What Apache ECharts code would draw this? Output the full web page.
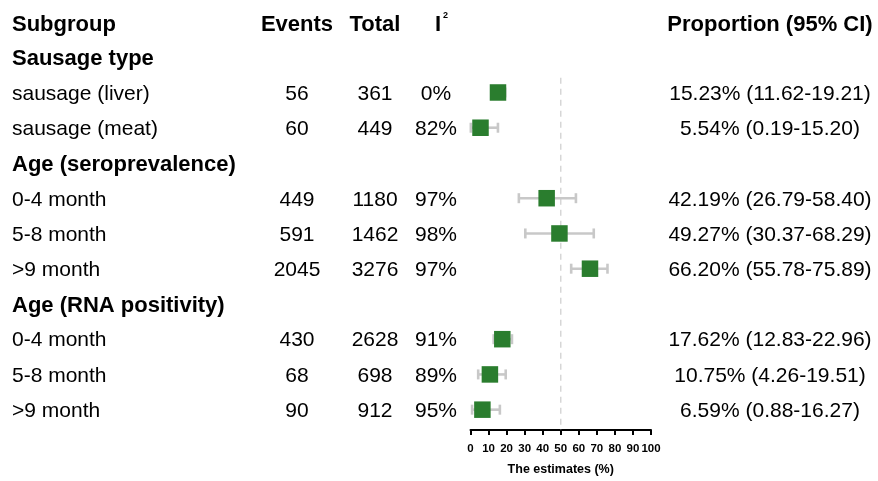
<!DOCTYPE html>
<html>
<head>
<meta charset="utf-8">
<script src="https://cdn.jsdelivr.net/npm/echarts@6/dist/echarts.min.js"></script>
<style>
html,body{margin:0;padding:0;background:#fff;}
#chart{width:878px;height:481px;}
</style>
</head>
<body>
<div id="chart"></div>
<script>
// ---- data ----
const subgroups = ['Sausage type','sausage (liver)','sausage (meat)','Age (seroprevalence)','0-4 month','5-8 month','>9 month','Age (RNA positivity)','0-4 month','5-8 month','>9 month'];
const isGroupHeader = [true,false,false,true,false,false,false,true,false,false,false];
const events = [null,56,60,null,449,591,2045,null,430,68,90];
const totals = [null,361,449,null,1180,1462,3276,null,2628,698,912];
const i2 = [null,0,82,null,97,98,97,null,91,89,95];
const estimates = [null,15.23,5.54,null,42.19,49.27,66.20,null,17.62,10.75,6.59];
const lowerCI = [null,11.62,0.19,null,26.79,30.37,55.78,null,12.83,4.26,0.88];
const upperCI = [null,19.21,15.20,null,58.40,68.29,75.89,null,22.96,19.51,16.27];
const xTicks = [0,10,20,30,40,50,60,70,80,90,100];
const refValue = 50;
const headers = ['Subgroup','Events','Total','I','Proportion (95% CI)'];

// ---- layout ----
const FONT = "'Liberation Sans', Arial, Helvetica, sans-serif";
const gridLeft = 470.5, gridWidth = 180.5, gridTop = 22, gridHeight = 411.5;
const yMax = 11.577;
const refLineTop = 1.58;
const colSubgroup = 12, colEvents = 297, colTotal = 375, colI2 = 436, colProp = 770;
const textOffset = 1.5, headerOffset = 2.5;

const chart = echarts.init(document.getElementById('chart'), null, {renderer:'canvas'});

const rows = subgroups.map((s,i)=>i+1);
const pointData = [], ciData = [];
estimates.forEach((e,i)=>{
  if (e!=null) {
    pointData.push([e, i+1]);
    ciData.push([i+1, lowerCI[i], upperCI[i]]);
  }
});

const option = {
  animation:false,
  backgroundColor:'#fff',
  grid:{left:gridLeft, top:gridTop, width:gridWidth, height:gridHeight},
  xAxis:{
    type:'value', min:0, max:100, interval:10,
    axisLine:{show:true, onZero:false, lineStyle:{color:'#000', width:2}},
    axisTick:{show:true, length:5, lineStyle:{color:'#000', width:2}},
    axisLabel:{color:'#000', fontFamily:FONT, fontWeight:'bold', fontSize:11.5, margin:13,
      formatter:(v)=> xTicks.includes(v) ? String(v) : ''},
    splitLine:{show:false},
    name:'The estimates (%)', nameLocation:'middle', nameGap:33,
    nameTextStyle:{color:'#000', fontFamily:FONT, fontWeight:'bold', fontSize:12.5}
  },
  yAxis:{
    type:'value', min:0, max:yMax, inverse:true, show:false
  },
  series:[
    {
      type:'line',
      data:[[refValue, refLineTop],[refValue, yMax]],
      symbol:'none',
      lineStyle:{color:'#d6d6d6', width:1.5, type:[6,5]},
      silent:true, z:1
    },
    {
      type:'custom',
      data:ciData,
      z:2,
      renderItem:function(params, api){
        const row = api.value(0), lo = api.value(1), hi = api.value(2);
        const p1 = api.coord([lo,row]);
        const p2 = api.coord([hi,row]);
        const cap = 5;
        const st = {stroke:'#c8c8c8', lineWidth:2.6};
        return {type:'group', children:[
          {type:'line', shape:{x1:p1[0],y1:p1[1],x2:p2[0],y2:p2[1]}, style:st},
          {type:'line', shape:{x1:p1[0],y1:p1[1]-cap,x2:p1[0],y2:p1[1]+cap}, style:st},
          {type:'line', shape:{x1:p2[0],y1:p2[1]-cap,x2:p2[0],y2:p2[1]+cap}, style:st}
        ]};
      }
    },
    {
      type:'scatter',
      data:pointData,
      symbol:'rect',
      symbolSize:16.5,
      itemStyle:{color:'#2a7d2e', opacity:1},
      z:3
    }
  ]
};
chart.setOption(option);

function yPix(row){ return chart.convertToPixel({gridIndex:0}, [0,row])[1]; }

const graphics = [];
function txt(text, x, y, align, bold){
  graphics.push({type:'text', x:x, y:y, silent:true,
    style:{text:text, fill:'#000', font:(bold?'bold 22px ':'21px ')+FONT, align:align, verticalAlign:'middle'}});
}
// header row
const y0 = yPix(0) + headerOffset;
txt(headers[0], colSubgroup, y0, 'left', true);
txt(headers[1], colEvents, y0, 'center', true);
txt(headers[2], colTotal, y0, 'center', true);
graphics.push({type:'text', x:colI2+2, y:y0, silent:true,
  style:{text:'I', fill:'#000', font:'bold 22px '+FONT, align:'center', verticalAlign:'middle'}});
graphics.push({type:'text', x:colI2+7, y:y0-9, silent:true,
  style:{text:'2', fill:'#000', font:'bold 9px '+FONT, align:'left', verticalAlign:'middle'}});
txt(headers[4], colProp, y0, 'center', true);

subgroups.forEach((s,i)=>{
  const y = yPix(rows[i]) + textOffset;
  txt(s, colSubgroup, y, 'left', isGroupHeader[i]);
  if (events[i]!=null) txt(String(events[i]), colEvents, y, 'center', false);
  if (totals[i]!=null) txt(String(totals[i]), colTotal, y, 'center', false);
  if (i2[i]!=null) txt(i2[i]+'%', colI2, y, 'center', false);
  if (estimates[i]!=null) txt(estimates[i].toFixed(2)+'% ('+lowerCI[i].toFixed(2)+'-'+upperCI[i].toFixed(2)+')', colProp, y, 'center', false);
});

chart.setOption({graphic:{elements:graphics}});
</script>
</body>
</html>
